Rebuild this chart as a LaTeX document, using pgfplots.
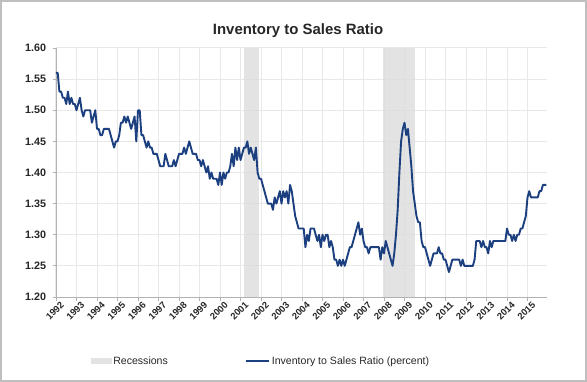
\documentclass[border=0pt]{standalone}
\usepackage{pgfplots}
\pgfplotsset{compat=1.18}
\usepackage{pgfplotstable}
\usepackage{fontspec}
\setmainfont{Liberation Sans}
\definecolor{navy}{HTML}{1B3F7F}
\definecolor{recgray}{HTML}{DCDCDC}
\pgfplotstableread[row sep=\\]{
Y M V\\
1992 1 1.56\\ 1992 2 1.56\\ 1992 3 1.53\\ 1992 4 1.53\\ 1992 5 1.52\\ 1992 6 1.52\\ 1992 7 1.51\\ 1992 8 1.53\\ 1992 9 1.51\\ 1992 10 1.52\\ 1992 11 1.51\\ 1992 12 1.51\\
1993 1 1.50\\ 1993 2 1.51\\ 1993 3 1.52\\ 1993 4 1.50\\ 1993 5 1.49\\ 1993 6 1.50\\ 1993 7 1.50\\ 1993 8 1.50\\ 1993 9 1.50\\ 1993 10 1.48\\ 1993 11 1.49\\ 1993 12 1.50\\
1994 1 1.47\\ 1994 2 1.47\\ 1994 3 1.46\\ 1994 4 1.46\\ 1994 5 1.47\\ 1994 6 1.47\\ 1994 7 1.47\\ 1994 8 1.47\\ 1994 9 1.46\\ 1994 10 1.45\\ 1994 11 1.44\\ 1994 12 1.45\\
1995 1 1.45\\ 1995 2 1.46\\ 1995 3 1.48\\ 1995 4 1.48\\ 1995 5 1.49\\ 1995 6 1.48\\ 1995 7 1.49\\ 1995 8 1.48\\ 1995 9 1.47\\ 1995 10 1.48\\ 1995 11 1.49\\ 1995 12 1.45\\
1996 1 1.50\\ 1996 2 1.50\\ 1996 3 1.46\\ 1996 4 1.46\\ 1996 5 1.45\\ 1996 6 1.44\\ 1996 7 1.45\\ 1996 8 1.44\\ 1996 9 1.44\\ 1996 10 1.43\\ 1996 11 1.43\\ 1996 12 1.43\\
1997 1 1.42\\ 1997 2 1.41\\ 1997 3 1.41\\ 1997 4 1.41\\ 1997 5 1.43\\ 1997 6 1.42\\ 1997 7 1.41\\ 1997 8 1.41\\ 1997 9 1.41\\ 1997 10 1.42\\ 1997 11 1.41\\ 1997 12 1.42\\
1998 1 1.43\\ 1998 2 1.43\\ 1998 3 1.43\\ 1998 4 1.44\\ 1998 5 1.43\\ 1998 6 1.44\\ 1998 7 1.45\\ 1998 8 1.44\\ 1998 9 1.43\\ 1998 10 1.43\\ 1998 11 1.43\\ 1998 12 1.42\\
1999 1 1.42\\ 1999 2 1.41\\ 1999 3 1.42\\ 1999 4 1.41\\ 1999 5 1.40\\ 1999 6 1.41\\ 1999 7 1.39\\ 1999 8 1.40\\ 1999 9 1.39\\ 1999 10 1.39\\ 1999 11 1.39\\ 1999 12 1.38\\
2000 1 1.40\\ 2000 2 1.38\\ 2000 3 1.40\\ 2000 4 1.39\\ 2000 5 1.40\\ 2000 6 1.40\\ 2000 7 1.41\\ 2000 8 1.43\\ 2000 9 1.41\\ 2000 10 1.44\\ 2000 11 1.42\\ 2000 12 1.44\\
2001 1 1.42\\ 2001 2 1.43\\ 2001 3 1.44\\ 2001 4 1.44\\ 2001 5 1.45\\ 2001 6 1.43\\ 2001 7 1.44\\ 2001 8 1.43\\ 2001 9 1.42\\ 2001 10 1.44\\ 2001 11 1.40\\ 2001 12 1.39\\
2002 1 1.39\\ 2002 2 1.38\\ 2002 3 1.37\\ 2002 4 1.36\\ 2002 5 1.35\\ 2002 6 1.35\\ 2002 7 1.35\\ 2002 8 1.34\\ 2002 9 1.36\\ 2002 10 1.35\\ 2002 11 1.36\\ 2002 12 1.37\\
2003 1 1.35\\ 2003 2 1.37\\ 2003 3 1.36\\ 2003 4 1.37\\ 2003 5 1.35\\ 2003 6 1.38\\ 2003 7 1.37\\ 2003 8 1.35\\ 2003 9 1.33\\ 2003 10 1.32\\ 2003 11 1.31\\ 2003 12 1.31\\
2004 1 1.31\\ 2004 2 1.31\\ 2004 3 1.28\\ 2004 4 1.30\\ 2004 5 1.29\\ 2004 6 1.31\\ 2004 7 1.31\\ 2004 8 1.31\\ 2004 9 1.30\\ 2004 10 1.29\\ 2004 11 1.30\\ 2004 12 1.28\\
2005 1 1.30\\ 2005 2 1.29\\ 2005 3 1.30\\ 2005 4 1.30\\ 2005 5 1.28\\ 2005 6 1.29\\ 2005 7 1.28\\ 2005 8 1.26\\ 2005 9 1.26\\ 2005 10 1.25\\ 2005 11 1.26\\ 2005 12 1.25\\
2006 1 1.26\\ 2006 2 1.25\\ 2006 3 1.26\\ 2006 4 1.27\\ 2006 5 1.28\\ 2006 6 1.28\\ 2006 7 1.29\\ 2006 8 1.30\\ 2006 9 1.31\\ 2006 10 1.32\\ 2006 11 1.30\\ 2006 12 1.31\\
2007 1 1.29\\ 2007 2 1.28\\ 2007 3 1.28\\ 2007 4 1.27\\ 2007 5 1.28\\ 2007 6 1.28\\ 2007 7 1.28\\ 2007 8 1.28\\ 2007 9 1.28\\ 2007 10 1.28\\ 2007 11 1.26\\ 2007 12 1.28\\
2008 1 1.27\\ 2008 2 1.29\\ 2008 3 1.28\\ 2008 4 1.27\\ 2008 5 1.26\\ 2008 6 1.25\\ 2008 7 1.27\\ 2008 8 1.30\\ 2008 9 1.34\\ 2008 10 1.40\\ 2008 11 1.45\\ 2008 12 1.47\\
2009 1 1.48\\ 2009 2 1.46\\ 2009 3 1.47\\ 2009 4 1.44\\ 2009 5 1.41\\ 2009 6 1.37\\ 2009 7 1.35\\ 2009 8 1.33\\ 2009 9 1.32\\ 2009 10 1.32\\ 2009 11 1.29\\ 2009 12 1.28\\
2010 1 1.28\\ 2010 2 1.27\\ 2010 3 1.26\\ 2010 4 1.25\\ 2010 5 1.26\\ 2010 6 1.27\\ 2010 7 1.27\\ 2010 8 1.27\\ 2010 9 1.28\\ 2010 10 1.27\\ 2010 11 1.27\\ 2010 12 1.26\\
2011 1 1.26\\ 2011 2 1.25\\ 2011 3 1.24\\ 2011 4 1.25\\ 2011 5 1.26\\ 2011 6 1.26\\ 2011 7 1.26\\ 2011 8 1.26\\ 2011 9 1.26\\ 2011 10 1.25\\ 2011 11 1.26\\ 2011 12 1.25\\
2012 1 1.25\\ 2012 2 1.25\\ 2012 3 1.25\\ 2012 4 1.25\\ 2012 5 1.25\\ 2012 6 1.26\\ 2012 7 1.29\\ 2012 8 1.29\\ 2012 9 1.29\\ 2012 10 1.28\\ 2012 11 1.29\\ 2012 12 1.28\\
2013 1 1.28\\ 2013 2 1.27\\ 2013 3 1.29\\ 2013 4 1.28\\ 2013 5 1.29\\ 2013 6 1.29\\ 2013 7 1.29\\ 2013 8 1.29\\ 2013 9 1.29\\ 2013 10 1.29\\ 2013 11 1.29\\ 2013 12 1.29\\
2014 1 1.31\\ 2014 2 1.30\\ 2014 3 1.30\\ 2014 4 1.29\\ 2014 5 1.30\\ 2014 6 1.29\\ 2014 7 1.30\\ 2014 8 1.30\\ 2014 9 1.31\\ 2014 10 1.31\\ 2014 11 1.32\\ 2014 12 1.33\\
2015 1 1.36\\ 2015 2 1.37\\ 2015 3 1.36\\ 2015 4 1.36\\ 2015 5 1.36\\ 2015 6 1.36\\ 2015 7 1.36\\ 2015 8 1.37\\ 2015 9 1.37\\ 2015 10 1.38\\ 2015 11 1.38\\ 2015 12 1.38\\
}\isratio
\begin{document}
\begin{tikzpicture}
\path[use as bounding box] (0bp,0bp) rectangle (587bp,382bp);
\draw[gray!50, line width=2bp] (1bp,1bp) rectangle (586bp,381bp);
\begin{axis}[
  at={(56bp,85bp)}, anchor=south west,
  scale only axis, width=491bp, height=249bp,
  xmin=1992, xmax=2015.95, ymin=1.2, ymax=1.6,
  xtick={1992,1993,...,2015},
  ytick={1.20,1.25,1.30,1.35,1.40,1.45,1.50,1.55,1.60},
  axis x line*=bottom, axis y line*=left,
  axis line style={gray!60, line width=0.8bp, -},
  tick style={gray!60, line width=0.8bp},
  tick align=outside, major tick length=3.5bp,
  grid=major, grid style={gray!18, line width=1bp},
  /pgf/number format/assume math mode=true,
  xticklabel={\pgfmathprintnumber[1000 sep={},fixed,precision=0]{\tick}},
  yticklabel={\pgfmathprintnumber[fixed,fixed zerofill,precision=2]{\tick}},
  yticklabel style={font=\bfseries\fontsize{10.8}{12}\selectfont, text=black!85, xshift=-3bp},
  xticklabel style={font=\bfseries\fontsize{9.4}{10}\selectfont, text=black!85, rotate=45, anchor=north east, inner sep=1bp, xshift=3.5bp, yshift=-2bp},
  title={Inventory to Sales Ratio},
  title style={font=\bfseries\fontsize{15}{18}\selectfont, text=black!85, at={(0.493,1)}, anchor=base, yshift=8bp},
  legend style={at={(0.417,-0.257)}, anchor=center, draw=none, fill=none,
    font=\fontsize{10.6}{12}\selectfont, text=black!85,
    /tikz/every even column/.append style={column sep=76bp},
    nodes={inner sep=1.5bp}},
  legend columns=2,
]
\addplot[draw=none, fill=recgray, fill opacity=0.8, forget plot] coordinates {(2007.96,1.2) (2007.96,1.6) (2009.53,1.6) (2009.53,1.2)};
\addplot[draw=none, fill=recgray, fill opacity=0.8,
  legend image code/.code={\fill[recgray] (0bp,-3bp) rectangle (21bp,3bp);}]
  coordinates {(2001.19,1.2) (2001.19,1.6) (2001.92,1.6) (2001.92,1.2)};
\addlegendentry{Recessions}
\addplot[navy, line width=1.9bp, line join=round,
  legend image code/.code={\draw[navy, line width=2bp] (0bp,0bp) -- (23bp,0bp);}]
  table[x expr=\thisrow{Y}+(\thisrow{M}-1)/12, y=V] {\isratio};
\addlegendentry{Inventory to Sales Ratio (percent)}
\end{axis}
\end{tikzpicture}
\end{document}
